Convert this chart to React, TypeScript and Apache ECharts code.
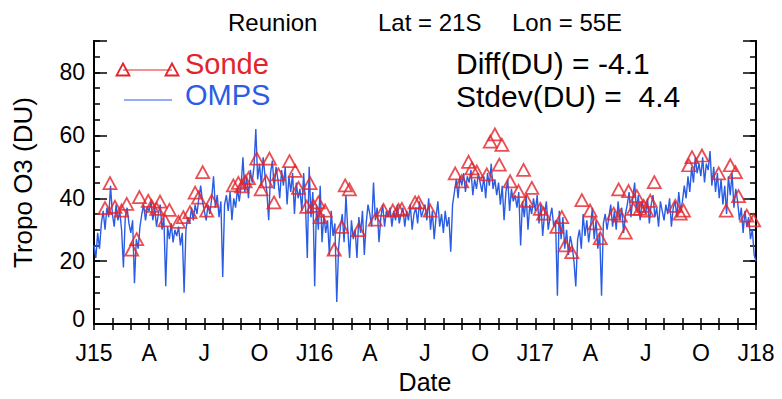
import React, { useEffect, useRef } from "react";
import * as echarts from "echarts";

// Tick labels for the quarterly date marks (months counted from Jan 2015)
const dateTickLabels = ["J15", "A", "J", "O", "J16", "A", "J", "O", "J17", "A", "J", "O", "J18"];

// OMPS tropospheric ozone, one value every 0.1 month (10 per row = one month)
const ompsDU = [
  25, 21, 29, 24, 32, 36, 30, 37, 34, 44,
  35, 31, 38, 33, 36, 30, 18, 34, 37, 32,
  29, 33, 13, 27, 24, 31, 35, 38, 33, 37,
  36, 39, 33, 37, 31, 35, 38, 30, 34, 12,
  31, 27, 32, 26, 30, 28, 31, 25, 29, 10,
  30, 34, 32, 37, 33, 38, 35, 40, 44, 39,
  36, 33, 38, 35, 40, 47, 37, 41, 34, 39,
  15, 38, 41, 36, 42, 33, 40, 37, 43, 39,
  44, 53, 42, 47, 40, 49, 45, 50, 62, 46,
  51, 44, 53, 47, 42, 33, 48, 52, 43, 50,
  46, 40, 49, 44, 50, 38, 47, 42, 48, 35,
  45, 40, 43, 36, 48, 38, 21, 50, 34, 42,
  12, 38, 30, 44, 26, 35, 29, 33, 22, 36,
  28, 32, 7, 24, 31, 35, 26, 41, 30, 21,
  33, 27, 30, 21, 34, 29, 36, 22, 32, 38,
  35, 31, 45, 33, 37, 26, 34, 38, 31, 36,
  34, 37, 31, 36, 33, 38, 32, 35, 37, 31,
  36, 33, 38, 30, 35, 37, 32, 39, 34, 36,
  38, 33, 40, 30, 36, 27, 34, 39, 31, 35,
  29, 36, 31, 34, 23, 38, 42, 46, 40, 47,
  44, 48, 42, 47, 45, 49, 41, 46, 43, 48,
  45, 42, 47, 40, 48, 44, 51, 43, 46, 41,
  45, 38, 44, 33, 42, 46, 36, 43, 39, 41,
  37, 42, 25, 39, 34, 41, 30, 38, 35, 40,
  36, 41, 32, 38, 28, 35, 39, 30, 34, 37,
  31, 33, 9, 36, 27, 34, 24, 30, 22, 28,
  25, 20, 12, 27, 30, 24, 35, 28, 33, 26,
  31, 37, 27, 33, 24, 29, 9, 32, 35, 30,
  34, 38, 31, 36, 30, 39, 33, 37, 29, 35,
  38, 42, 34, 40, 45, 36, 41, 33, 39, 37,
  35, 40, 32, 38, 41, 34, 37, 31, 39, 36,
  33, 38, 35, 40, 31, 37, 39, 34, 42, 36,
  39, 44, 40, 47, 42, 50, 45, 53, 48, 51,
  47, 53, 45, 51, 49, 55, 44, 50, 42, 48,
  40, 46, 38, 44, 35, 47, 41, 48, 37, 43,
  39, 33, 37, 29, 36, 31, 34, 27, 30, 22,
  20,
];

// Ozonesonde launches: time (months since Jan 2015) and tropospheric column (DU)
const sondeMonth = [
  0.6, 0.87, 1.14, 1.5, 1.78, 2.05, 2.32, 2.47, 2.95, 3.13, 3.41, 3.59, 3.86, 4.1, 4.59, 4.86,
  5.22, 5.5, 5.68, 5.91, 6.13, 6.4, 7.58, 7.85, 8.04, 8.22, 8.4, 8.85, 9.09, 9.36, 9.54, 9.79,
  10.03, 10.63, 10.94, 11.12, 11.57, 11.75, 11.93, 12.2, 12.3, 12.57, 13.06, 13.47, 13.66, 13.89,
  14.38, 15.29, 15.74, 16.25, 16.56, 16.74, 17.46, 17.65, 18.28, 19.64, 20.0, 20.37, 20.55, 20.82,
  21.36, 21.55, 21.8, 22.04, 22.18, 22.63, 23.09, 23.36, 23.54, 23.81, 24.27, 24.45, 25.17, 25.44,
  25.62, 25.98, 26.53, 26.98, 27.25, 27.53, 28.26, 28.53, 28.62, 28.89, 29.07, 29.33, 29.52, 29.7,
  29.89, 30.07, 30.25, 30.47, 31.61, 31.88, 32.06, 32.34, 32.52, 33.06, 33.97, 34.38, 34.6, 34.88,
  35.05, 35.5, 35.87,
];
const sondeDU = [
  36.9, 44.8, 37.3, 36.1, 38.2, 23.7, 27.0, 40.4, 39.2, 37.6, 36.6, 38.9, 33.0, 36.3, 32.5, 34.0,
  35.6, 41.8, 40.2, 48.3, 36.1, 39.2, 44.1, 44.9, 43.8, 45.4, 46.4, 52.6, 42.8, 45.4, 52.6, 38.7,
  47.6, 51.8, 48.7, 43.3, 37.3, 44.8, 37.6, 38.7, 34.0, 36.1, 23.7, 30.9, 44.1, 42.8,
  29.9, 33.2, 36.3, 36.1, 36.3, 36.6, 38.7, 38.7, 36.1, 47.9, 45.4, 51.6, 49.5, 48.5,
  47.6, 58.0, 60.3, 50.7, 57.0, 45.4, 42.3, 49.0, 39.2, 43.3, 36.6, 35.1, 30.9, 34.0,
  25.0, 22.9, 39.4, 36.1, 32.0, 27.3, 35.1, 42.8, 34.5, 29.1, 42.3, 36.6, 40.7, 36.6,
  37.6, 36.1, 39.2, 45.1, 37.6, 35.1, 36.1, 50.5, 53.1, 53.6, 47.9, 36.1, 50.5, 48.3,
  40.7, 34.5, 33.0,
];

const diffText = "Diff(DU) = -4.1";
const stdevText = "Stdev(DU) =  4.4";

const FONT = '"Liberation Sans", Arial, Helvetica, sans-serif';
const RED = "#e3242b";
const BLUE = "#2a5de4";

export default function App() {
  const ref = useRef<HTMLDivElement>(null);

  useEffect(() => {
    if (!ref.current) return;
    const chart = echarts.init(ref.current, null, { renderer: "svg" });

    const ompsData = ompsDU.map((v, i) => [i / 10, v]);
    const sondeData = sondeMonth.map((m, i) => [m, sondeDU[i]]);

    // Closed black frame with inward-pointing ticks on all four sides
    const frame = { show: true, lineStyle: { color: "#000", width: 2 } };
    const xCommon = {
      type: "value" as const,
      min: 0,
      max: 36,
      interval: 1,
      axisLine: frame,
      splitLine: { show: false },
      axisTick: { show: true, inside: true, length: 6, lineStyle: { color: "#000", width: 1.5 } },
    };
    const yCommon = {
      type: "value" as const,
      min: 0,
      max: 90,
      axisLine: frame,
      splitLine: { show: false },
    };
    const majorTick = { show: true, inside: true, length: 13, lineStyle: { color: "#000", width: 1.5 } };
    const minorTick = { show: true, inside: true, length: 6, lineStyle: { color: "#000", width: 1.5 } };

    // Hollow triangle used in the legend key
    const tri = (cx: number, cy: number) => ({
      type: "polygon",
      shape: { points: [[cx, cy - 6], [cx + 6.5, cy + 6], [cx - 6.5, cy + 6]] },
      style: { fill: "none", stroke: RED, lineWidth: 1.8 },
    });

    chart.setOption({
      animation: false,
      backgroundColor: "#fff",
      grid: { left: 94, top: 41, width: 662, height: 291, containLabel: false },
      xAxis: [
        {
          ...xCommon,
          position: "bottom",
          axisLabel: {
            show: true,
            margin: 17,
            color: "#000",
            fontSize: 23,
            fontFamily: FONT,
            showMinLabel: true,
            showMaxLabel: true,
            formatter: (v: number) => (Math.round(v) % 3 === 0 ? dateTickLabels[Math.round(v) / 3] : ""),
          },
          name: "Date",
          nameLocation: "middle",
          nameGap: 44,
          nameTextStyle: { color: "#000", fontSize: 25, fontFamily: FONT },
        },
        { ...xCommon, position: "top", axisLabel: { show: false } },
      ],
      yAxis: [
        {
          ...yCommon,
          position: "left",
          interval: 20,
          axisTick: majorTick,
          axisLabel: {
            show: true,
            margin: 9,
            color: "#000",
            fontSize: 23,
            fontFamily: FONT,
            formatter: (v: number) => (v === 0 ? "{z|0}" : v > 80 ? "" : String(v)),
            rich: { z: { fontSize: 23, fontFamily: FONT, color: "#000", padding: [0, 0, 10, 0] } },
          },
          name: "Tropo O3 (DU)",
          nameLocation: "middle",
          nameRotate: 90,
          nameGap: 58,
          nameTextStyle: { color: "#000", fontSize: 26, fontFamily: FONT },
        },
        { ...yCommon, position: "left", interval: 5, axisTick: minorTick, axisLabel: { show: false } },
        { ...yCommon, position: "right", interval: 20, axisTick: majorTick, axisLabel: { show: false } },
        { ...yCommon, position: "right", interval: 5, axisTick: minorTick, axisLabel: { show: false } },
      ],
      series: [
        {
          name: "OMPS",
          type: "line",
          xAxisIndex: 0,
          yAxisIndex: 0,
          data: ompsData,
          showSymbol: false,
          symbol: "none",
          lineStyle: { color: BLUE, width: 1.4 },
          z: 2,
        },
        {
          name: "Sonde",
          type: "scatter",
          xAxisIndex: 0,
          yAxisIndex: 0,
          data: sondeData,
          symbol: "triangle",
          symbolSize: [13, 12],
          itemStyle: { color: "rgba(0,0,0,0)", borderColor: RED, borderWidth: 1.8 },
          z: 3,
        },
      ],
      graphic: [
        { type: "text", left: 228, top: 10, style: { text: "Reunion", fill: "#000", font: `24px ${FONT}` } },
        { type: "text", left: 378, top: 10, style: { text: "Lat = 21S", fill: "#000", font: `24px ${FONT}` } },
        { type: "text", left: 512, top: 10, style: { text: "Lon = 55E", fill: "#000", font: `24px ${FONT}` } },
        { type: "text", left: 456, top: 48, style: { text: diffText, fill: "#000", font: `30px ${FONT}` } },
        { type: "text", left: 456, top: 81, style: { text: stdevText, fill: "#000", font: `30px ${FONT}` } },
        { type: "line", shape: { x1: 123, y1: 70, x2: 172, y2: 70 }, style: { stroke: RED, lineWidth: 1.2 } },
        tri(123, 69.5),
        tri(172, 69.5),
        { type: "text", left: 185, top: 49, style: { text: "Sonde", fill: RED, font: `29px ${FONT}` } },
        { type: "line", shape: { x1: 124, y1: 100, x2: 172, y2: 100 }, style: { stroke: BLUE, lineWidth: 1 } },
        { type: "text", left: 185, top: 80, style: { text: "OMPS", fill: BLUE, font: `29px ${FONT}` } },
      ],
    });

    return () => chart.dispose();
  }, []);

  return (
    <div
      ref={ref}
      style={{ position: "fixed", left: 0, top: 0, width: 782, height: 399, background: "#fff" }}
    />
  );
}
